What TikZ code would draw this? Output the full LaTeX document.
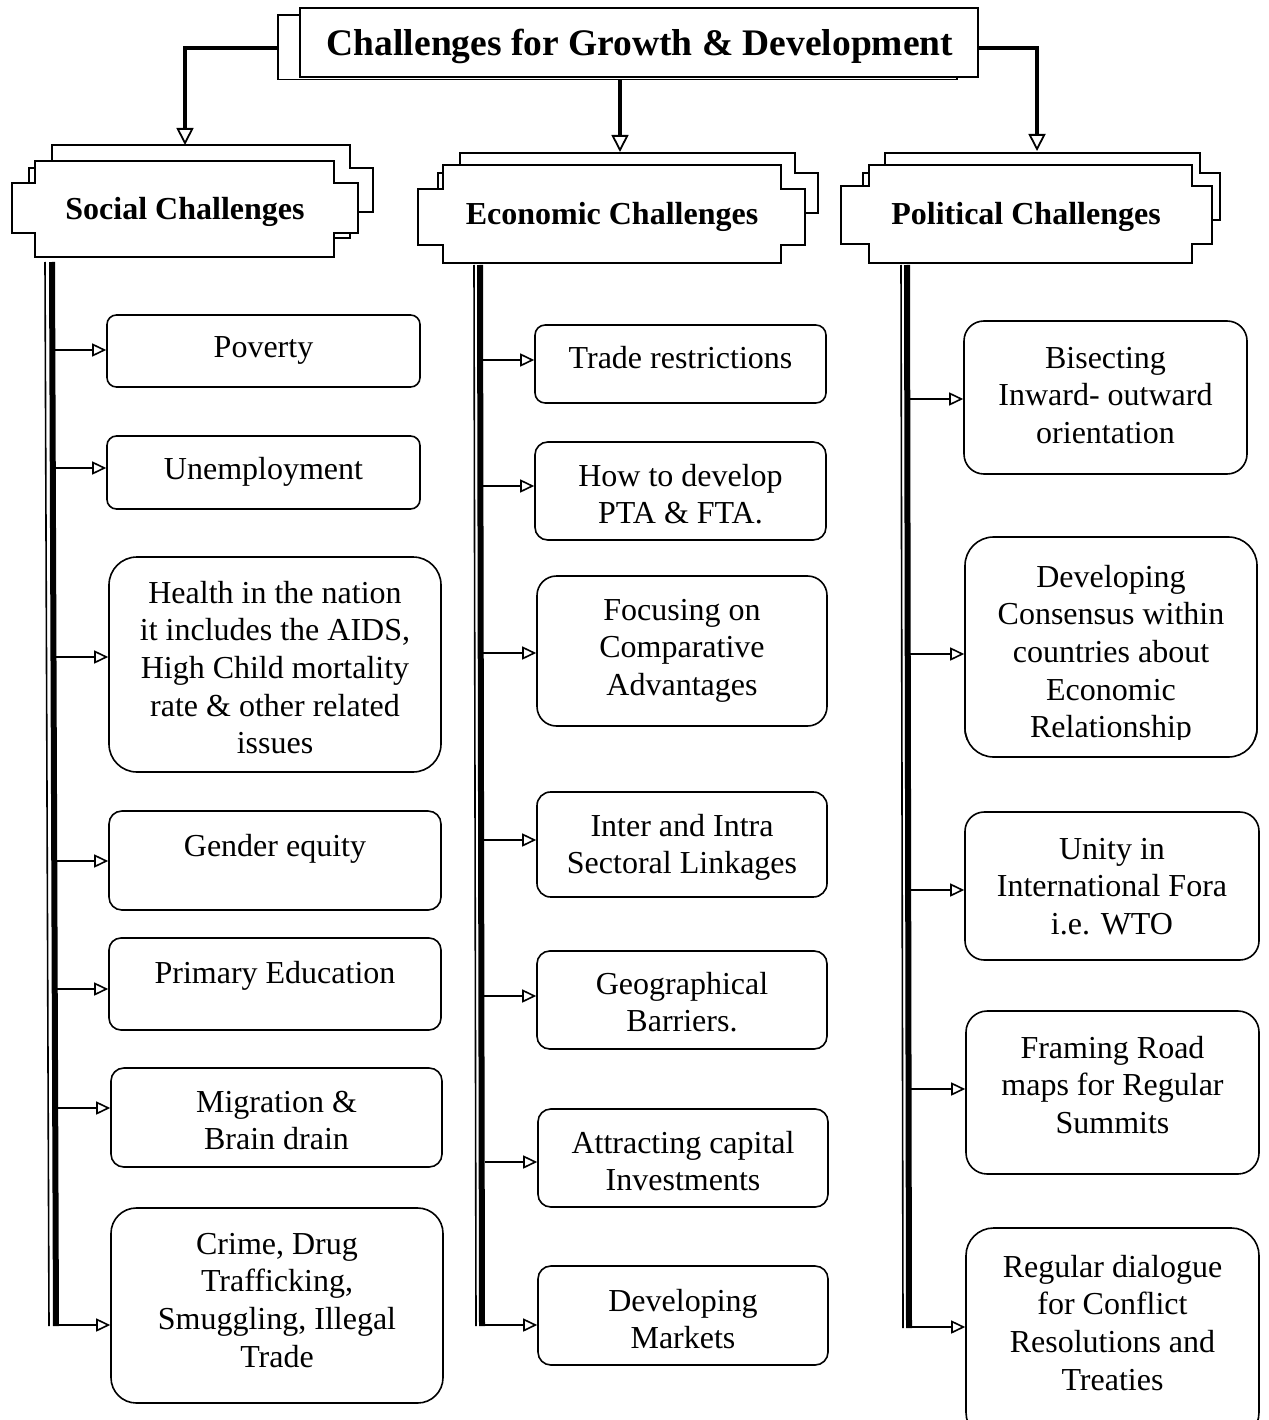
\documentclass[tikz,border=0pt]{standalone}
\usepackage{fontspec}
\setmainfont{Liberation Serif}
\usetikzlibrary{arrows.meta}
\tikzset{
  cbox/.style={draw, line width=1.6pt, fill=white, inner sep=0pt},
  ctext/.style={inner sep=0pt, align=center, font=\fontsize{32}{37.6}\selectfont},
  htext/.style={inner sep=0pt, font=\fontsize{32}{38}\selectfont\bfseries},
  ttext/.style={inner sep=0pt, font=\fontsize{37.5}{40}\selectfont\bfseries},
  branch/.style={line width=1.5pt, -{Triangle[open, length=14pt, width=13pt, line width=1.6pt]}},
  trunk/.style={line width=3.5pt, -{Triangle[open, length=17pt, width=17pt, line width=1.8pt]}},
  plaque/.style={draw, line width=1.6pt, fill=white, line join=miter},
  barthin/.style={line width=1.6pt},
  barthick/.style={line width=6pt},
}
% L Lo R Ro T B n1 n2
\newcommand\drawplaque[8]{%
  \draw[plaque] (#1,#5) -- (#3,#5) -- (#3,#7) -- (#4,#7) -- (#4,#8) -- (#3,#8) -- (#3,#6) -- (#1,#6) -- (#1,#8) -- (#2,#8) -- (#2,#7) -- (#1,#7) -- cycle;}
% name L T R B text midy
\newcommand\chbox[7]{%
  \pgfmathsetmacro\bw{#4-#2}%
  \pgfmathsetmacro\bh{#5-#3}%
  \pgfmathsetmacro\rr{0.13*min(\bw,\bh)}%
  \pgfmathsetmacro\cx{(#2+#4)/2}%
  \pgfmathsetmacro\cy{(#3+#5)/2}%
  \node[cbox, minimum width=\bw pt, minimum height=\bh pt, rounded corners=\rr pt] (#1) at (\cx,\cy) {};%
  \pgfmathsetmacro\ty{#7+10-26.32}%
  \node[ctext, anchor=north] (#1t) at (\cx,\ty) {\strut #6};%
}
\begin{document}
\begin{tikzpicture}[x=1pt, y=-1pt]
\useasboundingbox[fill=white] (0,0) rectangle (1268,1420);

% ---- title ----
\draw[line width=1.6pt, fill=white] (278,15) rectangle (957,79.5);
\node[draw, line width=1.6pt, fill=white, minimum width=678pt, minimum height=69pt, inner sep=0pt] (title) at (639,42.5) {};
\node[ttext, anchor=base] (titlet) at (640,56) {Challenges for Growth \& Development};
\coordinate (tback) at (278,48);
\coordinate (tmid) at (620,80);
\coordinate (tright) at (978,48);

% ---- headers ----
\drawplaque{52}{29}{350}{373}{145}{238}{168}{212}
\drawplaque{35}{12}{334}{358}{161}{257}{183}{233}
\node[htext, anchor=base] (soc) at (185,220) {Social Challenges};

\drawplaque{460}{438}{795}{818}{153}{241}{173}{213}
\drawplaque{443}{418}{781}{805}{165}{263}{189}{245}
\node[htext, anchor=base] (eco) at (612,225) {Economic Challenges};

\drawplaque{885}{863}{1200}{1220}{153}{242}{173}{220}
\drawplaque{869}{841}{1192}{1212}{165}{263}{186}{244}
\node[htext, anchor=base] (pol) at (1026,225) {Political Challenges};

\coordinate (stip) at (185,145);
\coordinate (etip) at (620,152);
\coordinate (ptip) at (1037,151);
\draw[trunk] (tback) -| (stip);
\draw[trunk] (tmid) -- (etip);
\draw[trunk] (tright) -| (ptip);

% ---- bars ----
\coordinate (sb1) at (45,262); \coordinate (sb2) at (49,1326);
\coordinate (sc1) at (52,262); \coordinate (sc2) at (56,1326);
\draw[barthin] (sb1) -- (sb2);
\draw[barthick] (sc1) -- (sc2);
\coordinate (eb1) at (474,265); \coordinate (eb2) at (476,1326);
\coordinate (ec1) at (480,265); \coordinate (ec2) at (482,1326);
\draw[barthin] (eb1) -- (eb2);
\draw[barthick] (ec1) -- (ec2);
\coordinate (pb1) at (901,265); \coordinate (pb2) at (903,1328);
\coordinate (pc1) at (907,265); \coordinate (pc2) at (909,1328);
\draw[barthin] (pb1) -- (pb2);
\draw[barthick] (pc1) -- (pc2);

% ---- social boxes ----
\chbox{s1}{107}{315}{420}{387}{Poverty}{347}
\chbox{s2}{107}{436}{420}{509}{Unemployment}{469}
\chbox{s3}{109}{557}{441}{772}{Health in the nation\\it includes the AIDS,\\High Child mortality\\rate \& other related\\issues}{593}
\chbox{s4}{109}{811}{441}{910}{Gender equity}{846}
\chbox{s5}{109}{938}{441}{1030}{Primary Education}{973}
\chbox{s6}{111}{1068}{442}{1167}{Migration \&\\Brain drain}{1102}
\chbox{s7}{111}{1208}{443}{1403}{Crime, Drug\\Trafficking,\\Smuggling, Illegal\\Trade}{1244}

% ---- economic boxes ----
\chbox{e1}{535}{325}{826}{403}{Trade restrictions}{358}
\chbox{e2}{535}{442}{826}{540}{How to develop\\PTA \& FTA.}{476}
\chbox{e3}{537}{576}{827}{726}{Focusing on\\Comparative\\Advantages}{610}
\chbox{e4}{537}{792}{827}{897}{Inter and Intra\\Sectoral Linkages}{826}
\chbox{e5}{537}{951}{827}{1049}{Geographical\\Barriers.}{984}
\chbox{e6}{538}{1109}{828}{1207}{Attracting capital\\Investments}{1143}
\chbox{e7}{538}{1266}{828}{1365}{Developing\\Markets}{1301}

% ---- political boxes ----
\chbox{p1}{964}{321}{1247}{474}{Bisecting\\Inward- outward\\orientation}{358}
\begin{scope}
\clip (960,530) rectangle (1262,739);
\chbox{p2}{965}{537}{1257}{757}{Developing\\Consensus within\\countries about\\Economic\\Relationship}{577}
\end{scope}
\draw[line width=1.6pt, rounded corners=28.6pt] (965,700) -- (965,757) -- (1257,757) -- (1257,700);
\chbox{p3}{965}{812}{1259}{960}{Unity in\\International Fora\\i.e. WTO}{849}
\chbox{p4}{966}{1011}{1259}{1174}{Framing Road\\maps for Regular\\Summits}{1048}
\chbox{p5}{966}{1228}{1259}{1440}{Regular dialogue\\for Conflict\\Resolutions and\\Treaties}{1267}

% ---- branches ----
\coordinate (sa1) at (55,350);  \draw[branch] (sa1) -- (sa1 -| s1.west);
\coordinate (sa2) at (56,468);  \draw[branch] (sa2) -- (sa2 -| s2.west);
\coordinate (sa3) at (56,657);  \draw[branch] (sa3) -- (sa3 -| s3.west);
\coordinate (sa4) at (57,861);  \draw[branch] (sa4) -- (sa4 -| s4.west);
\coordinate (sa5) at (57,989);  \draw[branch] (sa5) -- (sa5 -| s5.west);
\coordinate (sa6) at (58,1108); \draw[branch] (sa6) -- (sa6 -| s6.west);
\coordinate (sa7) at (58,1325); \draw[branch] (sa7) -- (sa7 -| s7.west);

\coordinate (ea1) at (483,360);  \draw[branch] (ea1) -- (ea1 -| e1.west);
\coordinate (ea2) at (483,486);  \draw[branch] (ea2) -- (ea2 -| e2.west);
\coordinate (ea3) at (483,653);  \draw[branch] (ea3) -- (ea3 -| e3.west);
\coordinate (ea4) at (484,840);  \draw[branch] (ea4) -- (ea4 -| e4.west);
\coordinate (ea5) at (484,996);  \draw[branch] (ea5) -- (ea5 -| e5.west);
\coordinate (ea6) at (485,1162); \draw[branch] (ea6) -- (ea6 -| e6.west);
\coordinate (ea7) at (485,1325); \draw[branch] (ea7) -- (ea7 -| e7.west);

\coordinate (pa1) at (910,399);  \draw[branch] (pa1) -- (pa1 -| p1.west);
\coordinate (pa2) at (910,654);  \draw[branch] (pa2) -- (pa2 -| p2.west);
\coordinate (pa3) at (911,890);  \draw[branch] (pa3) -- (pa3 -| p3.west);
\coordinate (pa4) at (911,1089); \draw[branch] (pa4) -- (pa4 -| p4.west);
\coordinate (pa5) at (912,1327); \draw[branch] (pa5) -- (pa5 -| p5.west);
\end{tikzpicture}
\end{document}
